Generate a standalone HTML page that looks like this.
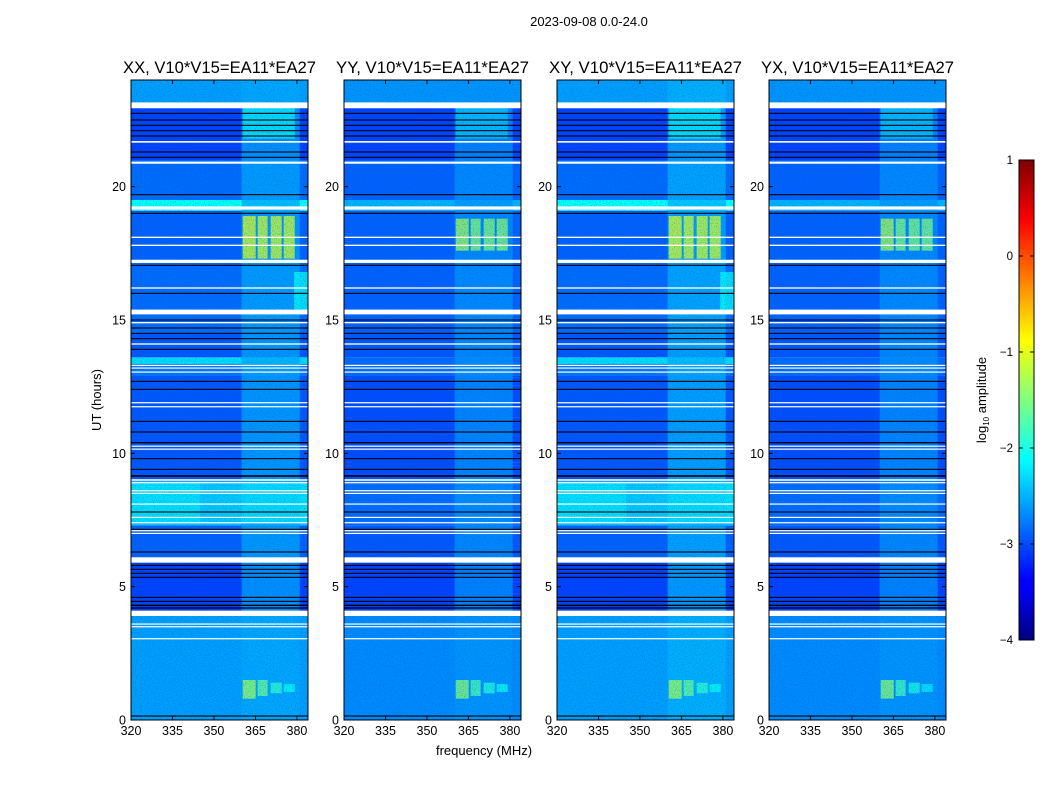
<!DOCTYPE html>
<html><head><meta charset="utf-8">
<style>
body{margin:0;background:#fff;}
svg text{font-family:"Liberation Sans","DejaVu Sans",sans-serif;fill:#000;}
</style></head>
<body>
<svg id="fig" width="1050" height="800" viewBox="0 0 1050 800" xmlns="http://www.w3.org/2000/svg">
<defs>
<filter id="noise" x="0" y="0" width="100%" height="100%">
<feTurbulence type="fractalNoise" baseFrequency="0.9" numOctaves="1" seed="3" result="t"/>
<feColorMatrix type="matrix" values="0 0 0 0 0  0 0 0 0 0.1  0 0 0 0 0.3  0 0 0 1.4 -0.7"/>
</filter>
<linearGradient id="jetgrad" x1="0" y1="1" x2="0" y2="0">
<stop offset="0" stop-color="#00007f"/><stop offset="0.11" stop-color="#0000ff"/>
<stop offset="0.125" stop-color="#0000ff"/><stop offset="0.375" stop-color="#00ffff"/>
<stop offset="0.625" stop-color="#ffff00"/><stop offset="0.875" stop-color="#ff0000"/>
<stop offset="1" stop-color="#7f0000"/>
</linearGradient>
</defs>
<text x="589" y="26" font-size="13" text-anchor="middle">2023-09-08 0.0-24.0</text>
<text transform="translate(101,400) rotate(-90)" font-size="13" text-anchor="middle">UT (hours)</text>
<text x="484" y="755" font-size="13" text-anchor="middle">frequency (MHz)</text>
<g id="panels"></g>
<g>
<rect x="1019" y="160" width="15" height="480" fill="url(#jetgrad)" stroke="#000" stroke-width="1"/>
<g id="cbticks"></g>
<text transform="translate(986,400) rotate(-90)" font-size="13" text-anchor="middle">log<tspan font-size="8" dy="3">10</tspan><tspan dy="-3"> amplitude</tspan></text>
</g>
</svg>
<script>
// ---- data ----
const panelTitles = ["XX, V10*V15=EA11*EA27","YY, V10*V15=EA11*EA27","XY, V10*V15=EA11*EA27","YX, V10*V15=EA11*EA27"];
const panelLeft = [131, 344, 557, 769];
const freqTicks = [320, 335, 350, 365, 380];
const timeTicks = [0, 5, 10, 15, 20];
const cbTicks = [1, 0, -1, -2, -3, -4];
// time bands [t0, t1, log amplitude]
const bandsXX = [[0,3.95,-2.6],[3.95,6.1,-3.05],[6.1,7.3,-2.9],[7.3,8.95,-2.4],[8.95,12.9,-2.95],[12.9,13.35,-2.8],[13.35,13.6,-2.3],[13.6,14.5,-2.95],[14.5,17.2,-2.85],[17.2,19.1,-2.9],[19.1,19.5,-2.1],[19.5,21.0,-2.85],[21.0,23.1,-3.05],[23.1,24,-2.6]];
const bandsYY = [[0,3.95,-2.7],[3.95,6.1,-3.05],[6.1,7.3,-2.95],[7.3,8.95,-2.85],[8.95,12.9,-3.0],[12.9,13.6,-2.85],[13.6,14.5,-2.95],[14.5,17.2,-2.9],[17.2,19.1,-2.9],[19.1,19.5,-2.5],[19.5,21.0,-2.9],[21.0,23.1,-3.05],[23.1,24,-2.65]];
// patches [f0, f1, t0, t1, log amplitude]
const patchesXX = [[360,381,0,24,-2.55],[360.4,365.1,17.3,18.9,-1.05],[365.8,369.4,17.3,18.9,-1.1],[370.5,374.5,17.3,18.9,-1.1],[375.2,379.2,17.3,18.9,-1.1],[360.4,365.1,0.8,1.5,-1.35],[365.8,369.4,0.9,1.5,-1.6],[370.5,374.5,1.0,1.4,-1.9],[375.2,379.2,1.05,1.35,-2.1],[360.4,379.2,21.8,23.0,-2.2],[379,384,15.3,16.8,-2.1],[320,345,7.4,8.9,-2.25],[360,384,7.4,8.9,-2.25]];
const patchesYY = [[360,381,0,24,-2.65],[360.4,365.1,17.6,18.8,-1.3],[365.8,369.4,17.6,18.8,-1.45],[370.5,374.5,17.6,18.8,-1.45],[375.2,379.2,17.6,18.8,-1.45],[360.4,365.1,0.8,1.5,-1.45],[365.8,369.4,0.9,1.5,-1.75],[370.5,374.5,1.0,1.4,-1.95],[375.2,379.2,1.05,1.35,-2.1],[360.4,379.2,21.8,23.0,-2.4]];
const patchesXY = [[360,381,0,24,-2.5],[360.4,365.1,17.3,18.9,-1.05],[365.8,369.4,17.3,18.9,-1.1],[370.5,374.5,17.3,18.9,-1.1],[375.2,379.2,17.3,18.9,-1.1],[360.4,365.1,0.8,1.5,-1.35],[365.8,369.4,0.9,1.5,-1.6],[370.5,374.5,1.0,1.4,-1.9],[375.2,379.2,1.05,1.35,-2.1],[360.4,379.2,21.8,23.0,-2.2],[379,384,15.3,16.8,-2.1],[320,345,7.4,8.9,-2.25],[360,384,7.4,8.9,-2.25]];
const patchesYX = [[360,381,0,24,-2.65],[360.4,365.1,17.6,18.8,-1.3],[365.8,369.4,17.6,18.8,-1.5],[370.5,374.5,17.6,18.8,-1.5],[375.2,379.2,17.6,18.8,-1.5],[360.4,365.1,0.8,1.5,-1.45],[365.8,369.4,0.9,1.5,-1.8],[370.5,374.5,1.0,1.4,-2.0],[375.2,379.2,1.05,1.35,-2.2],[360.4,379.2,21.8,23.0,-2.4]];
// flagged (white) time rows [t, thickness hours]
const whiteFlags = [[23.05,0.22],[21.68,0.06],[20.9,0.08],[19.2,0.12],[18.1,0.05],[17.8,0.05],[17.2,0.12],[16.2,0.05],[15.3,0.18],[14.9,0.05],[14.1,0.05],[13.3,0.04],[13.2,0.04],[13.05,0.04],[11.9,0.04],[11.75,0.04],[10.27,0.04],[10.16,0.04],[9.0,0.06],[8.9,0.04],[8.6,0.04],[8.5,0.04],[8.1,0.04],[7.6,0.04],[7.4,0.04],[7.1,0.04],[7.0,0.04],[6.0,0.2],[4.0,0.2],[3.6,0.04],[3.5,0.04],[3.05,0.04]];
// dark (black) time rows
const blackFlags = [[22.75,0.04],[22.5,0.04],[22.3,0.04],[22.1,0.04],[21.9,0.04],[21.3,0.04],[21.1,0.04],[19.7,0.04],[19.0,0.04],[17.05,0.04],[16.0,0.04],[15.0,0.04],[14.7,0.04],[14.5,0.04],[14.3,0.04],[13.9,0.04],[12.7,0.04],[12.4,0.04],[11.2,0.04],[10.8,0.04],[10.4,0.05],[9.8,0.04],[9.4,0.04],[9.15,0.06],[7.8,0.04],[7.15,0.04],[6.3,0.04],[5.8,0.04],[5.65,0.04],[5.5,0.04],[5.35,0.04],[4.6,0.04],[4.45,0.04],[4.3,0.05],[4.2,0.05],[0.15,0.04]];

const panelBands = [bandsXX, bandsYY, bandsXX, bandsYY];
const panelPatches = [patchesXX, patchesYY, patchesXY, patchesYX];

// ---- axes ----
const W = 177, TOP = 80, BOT = 720, FMIN = 320, FMAX = 384, TMIN = 0, TMAX = 24;
function jet(v){
  const x = Math.max(0, Math.min(1, (v + 4) / 5));
  const c = t => Math.round(255 * Math.max(0, Math.min(1, 1.5 - Math.abs(4 * x - t))));
  return `rgb(${c(3)},${c(2)},${c(1)})`;
}
const NS = "http://www.w3.org/2000/svg";
function mk(tag, attrs, parent){
  const e = document.createElementNS(NS, tag);
  for (const k in attrs) e.setAttribute(k, attrs[k]);
  parent.appendChild(e); return e;
}
const root = document.getElementById('panels');
panelTitles.forEach((title, p) => {
  const L = panelLeft[p];
  const xs = f => L + (f - FMIN) / (FMAX - FMIN) * W;
  const ys = t => BOT - (t - TMIN) / (TMAX - TMIN) * (BOT - TOP);
  const g = mk('g', {}, root);
  
  
  const hm = mk('g', {}, g);
  
  
  panelBands[p].forEach(b => {
    const r = mk('rect', {x: L, y: ys(b[1]), width: W, height: ys(b[0]) - ys(b[1]), fill: jet(b[2])}, hm);
    
    
  });
  panelPatches[p].forEach(q => {
    const r = mk('rect', {x: xs(q[0]), y: ys(q[3]), width: xs(q[1]) - xs(q[0]), height: ys(q[2]) - ys(q[3]), fill: jet(q[4]), opacity: 0.75}, hm);
    
    
  });
  mk('rect', {x: L, y: TOP, width: W, height: BOT - TOP, filter: 'url(#noise)'}, hm);
  blackFlags.forEach(b => {
    const r = mk('rect', {x: L, y: ys(b[0] + b[1] / 2), width: W, height: Math.max(1, ys(b[0]) - ys(b[0] + b[1])), fill: '#000'}, hm);
    
    
  });
  whiteFlags.forEach(b => {
    const r = mk('rect', {x: L, y: ys(b[0] + b[1] / 2), width: W, height: Math.max(1.2, ys(b[0]) - ys(b[0] + b[1])), fill: '#fff'}, hm);
    
    
  });
  const fr = mk('rect', {x: L, y: TOP, width: W, height: BOT - TOP, fill: 'none', stroke: '#000', 'stroke-width': 1}, g);
  
  
  const tt = mk('text', {x: L + W / 2, y: 73, 'font-size': 16.5, 'text-anchor': 'middle', textLength: 193, lengthAdjust: 'spacingAndGlyphs'}, g);
  tt.textContent = title;
  
  
  freqTicks.forEach(f => {
    mk('line', {x1: xs(f), x2: xs(f), y1: BOT, y2: BOT - 4, stroke: '#000'}, g);
    mk('line', {x1: xs(f), x2: xs(f), y1: TOP, y2: TOP + 4, stroke: '#000'}, g);
    const t = mk('text', {x: xs(f), y: BOT + 15, 'font-size': 12.5, 'text-anchor': 'middle'}, g);
    t.textContent = f;
    
    
  });
  timeTicks.forEach(v => {
    mk('line', {x1: L, x2: L + 4, y1: ys(v), y2: ys(v), stroke: '#000'}, g);
    mk('line', {x1: L + W, x2: L + W - 4, y1: ys(v), y2: ys(v), stroke: '#000'}, g);
    const t = mk('text', {x: L - 5, y: ys(v) + 4.5, 'font-size': 12.5, 'text-anchor': 'end'}, g);
    t.textContent = v;
    
    
  });
});
const cb = document.getElementById('cbticks');
cbTicks.forEach(v => {
  const y = 640 - (v + 4) / 5 * 480;
  mk('line', {x1: 1019, x2: 1023, y1: y, y2: y, stroke: '#000'}, cb);
  mk('line', {x1: 1030, x2: 1034, y1: y, y2: y, stroke: '#000'}, cb);
  const t = mk('text', {x: 1013, y: y + 4, 'font-size': 11.5, 'text-anchor': 'end'}, cb);
  t.textContent = v < 0 ? '\u2212' + (-v) : v;
  
  
});
</script>
</body></html>
